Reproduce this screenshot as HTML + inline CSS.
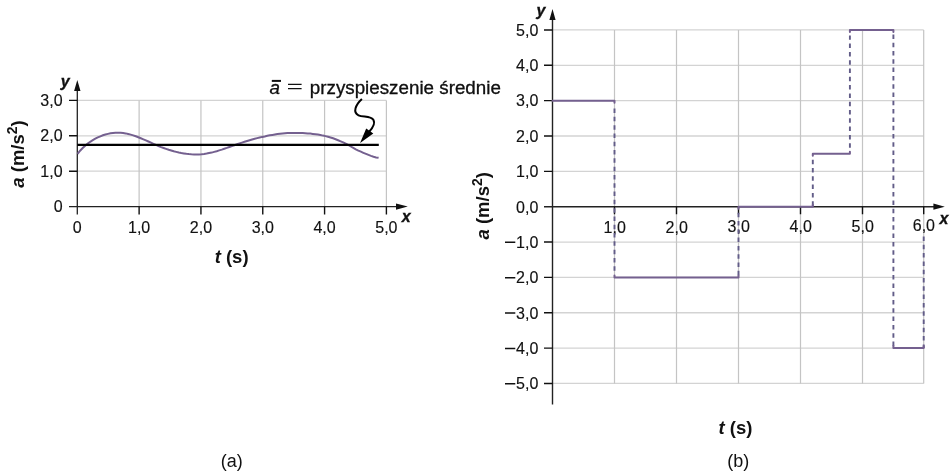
<!DOCTYPE html>
<html><head><meta charset="utf-8">
<style>
html,body{margin:0;padding:0;background:#fff;}
body{width:950px;height:473px;overflow:hidden;}
svg{display:block;will-change:transform;}
text{font-family:"Liberation Sans",sans-serif;fill:#111;}
.tl{font-size:16px;stroke:#111;stroke-width:0.15px;}
.ti{font-size:18.5px;font-weight:bold;}
.ax{font-size:16px;font-weight:bold;font-style:italic;stroke:#111;stroke-width:0.35px;}
</style></head><body>
<svg width="950" height="473" viewBox="0 0 950 473">
<path d="M77.3 171.2H386.4M77.3 135.8H386.4M77.3 100.4H386.4" stroke="#d3d3d3" stroke-width="1.3" fill="none"/>
<path d="M139.12 100.4V206.6M200.94 100.4V206.6M262.76 100.4V206.6M324.58 100.4V206.6M386.4 100.4V206.6" stroke="#c4c4c4" stroke-width="1.2" fill="none"/>
<path d="M77.3 90V214.6M69 206.6H397" stroke="#222" stroke-width="1.3" fill="none"/>
<path d="M69 171.2H77.3M69 135.8H77.3M69 100.4H77.3M139.12 206.6V214.6M200.94 206.6V214.6M262.76 206.6V214.6M324.58 206.6V214.6M386.4 206.6V214.6" stroke="#111" stroke-width="1.4" fill="none"/>
<path d="M77.3 79.9L74.1 91H80.5ZM407.8 206.6L396 203.4V209.8Z" fill="#111"/>
<g class="tl" text-anchor="end"><text x="62.6" y="105.8">3,0</text><text x="62.6" y="141.2">2,0</text><text x="62.6" y="176.6">1,0</text><text x="62.6" y="212">0</text></g>
<g class="tl" text-anchor="middle"><text x="77.3" y="232.6">0</text><text x="139.12" y="232.6">1,0</text><text x="200.94" y="232.6">2,0</text><text x="262.76" y="232.6">3,0</text><text x="324.58" y="232.6">4,0</text><text x="386.4" y="232.6">5,0</text></g>
<text class="ax" x="60.8" y="86.6">y</text>
<text class="ax" x="401.8" y="221.6">x</text>
<text class="ti" font-size="19" text-anchor="middle" transform="translate(24,154) rotate(-90)"><tspan font-style="italic">a</tspan> (m/s<tspan font-size="14" dy="-7">2</tspan><tspan dy="7">)</tspan></text>
<text class="ti" x="231.6" y="262.7" text-anchor="middle"><tspan font-style="italic">t</tspan> (s)</text>
<text x="231.7" y="467" font-size="18" text-anchor="middle">(a)</text>
<path d="M77.6 153.9 L80.1 150.7 L82.7 148.0 L85.2 145.7 L87.7 143.6 L90.2 141.8 L92.8 140.2 L95.3 138.7 L97.8 137.4 L100.4 136.3 L102.9 135.3 L105.4 134.5 L108.0 133.9 L110.5 133.3 L113.0 133.0 L115.5 132.8 L118.1 132.7 L120.6 132.8 L123.1 133.0 L125.7 133.4 L128.2 134.0 L130.7 134.6 L133.2 135.4 L135.8 136.3 L138.3 137.2 L140.8 138.2 L143.4 139.3 L145.9 140.4 L148.4 141.5 L151.0 142.7 L153.5 143.8 L156.0 144.9 L158.5 146.0 L161.1 147.1 L163.6 148.0 L166.1 148.9 L168.7 149.8 L171.2 150.5 L173.7 151.3 L176.2 151.9 L178.8 152.5 L181.3 153.0 L183.8 153.4 L186.4 153.8 L188.9 154.1 L191.4 154.3 L194.0 154.4 L196.5 154.5 L199.0 154.5 L201.5 154.3 L204.1 154.0 L206.6 153.6 L209.1 153.1 L211.7 152.6 L214.2 151.9 L216.7 151.2 L219.2 150.4 L221.8 149.6 L224.3 148.7 L226.8 147.9 L229.4 147.0 L231.9 146.1 L234.4 145.2 L237.0 144.3 L239.5 143.4 L242.0 142.6 L244.5 141.8 L247.1 141.0 L249.6 140.2 L252.1 139.5 L254.7 138.8 L257.2 138.1 L259.7 137.5 L262.2 136.9 L264.8 136.4 L267.3 135.8 L269.8 135.3 L272.4 134.9 L274.9 134.5 L277.4 134.1 L280.0 133.8 L282.5 133.5 L285.0 133.3 L287.5 133.1 L290.1 133.0 L292.6 132.9 L295.1 132.9 L297.7 132.9 L300.2 133.0 L302.7 133.1 L305.2 133.2 L307.8 133.4 L310.3 133.6 L312.8 133.9 L315.4 134.2 L317.9 134.6 L320.4 135.0 L323.0 135.6 L325.5 136.1 L328.0 136.8 L330.5 137.5 L333.1 138.3 L335.6 139.2 L338.1 140.2 L340.7 141.3 L343.2 142.4 L345.7 143.7 L348.2 145.0 L350.8 146.5 L353.3 147.9 L355.8 149.3 L358.4 150.6 L360.9 151.7 L363.4 152.8 L366.0 153.9 L368.5 154.9 L371.0 155.9 L373.5 156.8 L376.1 157.4 L378.6 157.8" stroke="#74608f" stroke-width="2" fill="none"/>
<path d="M77.3 144.9H378.8" stroke="#000" stroke-width="2.2"/>
<text x="269.6" y="94" font-size="18.8" font-style="italic" stroke="#000" stroke-width="0.3">a</text>
<path d="M271.8 80.9H281" stroke="#111" stroke-width="2"/>
<path d="M288 84.3H301.6M288 88.7H301.6" stroke="#111" stroke-width="1.3"/>
<text x="309.8" y="94.2" font-size="18.8" stroke="#000" stroke-width="0.3">przyspieszenie średnie</text>
<path d="M361.9 99.1C355.5 105 352.5 112.5 358.5 115.3C363 117.3 371 115.8 373.5 120C375.3 123.5 373 127.5 369.3 131.5" stroke="#000" stroke-width="2" fill="none"/>
<path d="M360.1 143L366.2 128.4L373.3 133.6Z" fill="#000"/>
<path d="M552.5 29.95H923.7M552.5 65.3H923.7M552.5 100.65H923.7M552.5 136H923.7M552.5 171.35H923.7M552.5 242.05H923.7M552.5 277.4H923.7M552.5 312.75H923.7M552.5 348.1H923.7M552.5 383.45H923.7" stroke="#d3d3d3" stroke-width="1.3" fill="none"/>
<path d="M614.5 29.95V383.45M676.5 29.95V383.45M738.5 29.95V383.45M800.5 29.95V383.45M862.5 29.95V383.45M923.7 29.95V383.45" stroke="#c4c4c4" stroke-width="1.2" fill="none"/>
<path d="M552.5 19V404.4M544 206.7H934" stroke="#222" stroke-width="1.4" fill="none"/>
<path d="M544 29.95H552.5M544 65.3H552.5M544 100.65H552.5M544 136H552.5M544 171.35H552.5M544 242.05H552.5M544 277.4H552.5M544 312.75H552.5M544 348.1H552.5M544 383.45H552.5M614.5 206.7V214.2M676.5 206.7V214.2M738.5 206.7V214.2M800.5 206.7V214.2M862.5 206.7V214.2M923.7 206.7V214.2" stroke="#111" stroke-width="1.4" fill="none"/>
<path d="M552.5 9.1L549.4 20H555.6ZM944.8 206.7L933.4 203.6V209.8Z" fill="#111"/>
<g class="tl" text-anchor="end"><text x="538.3" y="35.75">5,0</text><text x="538.3" y="71.1">4,0</text><text x="538.3" y="106.45">3,0</text><text x="538.3" y="141.8">2,0</text><text x="538.3" y="177.15">1,0</text><text x="538.3" y="212.5">0,0</text><text x="538.3" y="247.85">1,0</text><text x="538.3" y="283.2">2,0</text><text x="538.3" y="318.55">3,0</text><text x="538.3" y="353.9">4,0</text><text x="538.3" y="389.25">5,0</text></g>
<g class="tl" text-anchor="middle"><text x="614.7" y="232.5">1,0</text><text x="676.7" y="232.5">2,0</text><text x="738.7" y="232.3">3,0</text><text x="800.7" y="232.3">4,0</text><text x="862.7" y="232.3">5,0</text><text x="923.9" y="231">6,0</text></g>
<path d="M505 242.35H515.3M505 277.7H515.3M505 313.05H515.3M505 348.4H515.3M505 383.75H515.3" stroke="#111" stroke-width="1.5"/>
<text class="ax" x="536.5" y="15.6">y</text>
<text class="ax" x="939.6" y="224">x</text>
<text class="ti" font-size="19" text-anchor="middle" transform="translate(488.6,205.8) rotate(-90)"><tspan font-style="italic">a</tspan> (m/s<tspan font-size="14" dy="-7">2</tspan><tspan dy="7">)</tspan></text>
<text class="ti" x="735.5" y="433.5" text-anchor="middle"><tspan font-style="italic">t</tspan> (s)</text>
<text x="738.3" y="467" font-size="18" text-anchor="middle">(b)</text>
<path d="M614.5 270.75V106.6M738.5 212.7V277.4M812.8 159.7V206.7M849.9 147.7V35.5M893.4 34.4V348.1M923.7 236.5V348.1" stroke="#625c88" stroke-width="1.9" fill="none" stroke-dasharray="4.5 3.8"/>
<path d="M552.5 100.65H614.5V102.65M614.5 275.4V277.4H738.5V275.4M738.5 208.7V206.7H812.8V204.7M812.8 155.67V153.67H849.9V151.67M849.9 31.95V29.95H893.4V31.95M893.4 346.1V348.1H923.7V346.1" stroke="#74608f" stroke-width="2" fill="none" stroke-linecap="round" stroke-linejoin="round"/>
</svg>
</body></html>
